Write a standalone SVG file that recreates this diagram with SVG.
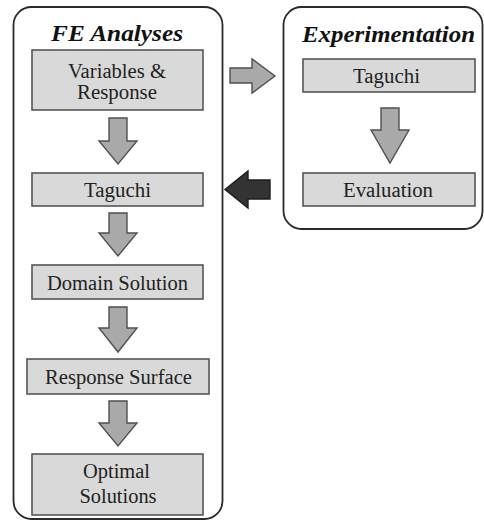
<svg xmlns="http://www.w3.org/2000/svg" width="484" height="521" viewBox="0 0 484 521">
  <style>
    .panel { fill: #ffffff; stroke: #2a2a2a; stroke-width: 1.8; }
    .box { fill: #d9d9d9; stroke: #555555; stroke-width: 1.6; }
    .arrow { fill: #a9a9a9; stroke: #505050; stroke-width: 1.4; stroke-linejoin: miter; }
    .arrow-dark { fill: #333333; stroke: #1e1e1e; stroke-width: 1.4; }
    text { font-family: "Liberation Serif", Tinos, "Nimbus Roman", "Nimbus Roman No9 L", FreeSerif, "Noto Serif", "DejaVu Serif", "Times New Roman", Times, serif; }
    .title { font-weight: bold; font-style: italic; font-size: 23px; fill: #111111; text-anchor: middle; }
    .label { font-size: 20px; fill: #222222; text-anchor: middle; }
  </style>
  <rect width="484" height="521" fill="#ffffff"/>

  <!-- FE analyses panel -->
  <g id="fe-analyses">
    <rect class="panel" x="13.5" y="7" width="209" height="512" rx="18" ry="18"/>
    <text class="title" x="117" y="41" textLength="132" lengthAdjust="spacingAndGlyphs">FE Analyses</text>
  </g>

  <!-- Experimentation panel -->
  <g id="experimentation">
    <rect class="panel" x="283.5" y="7" width="199" height="222" rx="18" ry="18"/>
    <text class="title" x="388.5" y="42" textLength="173" lengthAdjust="spacingAndGlyphs">Experimentation</text>
  </g>

  <g id="variables-response">
    <rect class="box" x="32" y="50" width="171" height="60"/>
    <text class="label" x="117" y="78" textLength="98" lengthAdjust="spacingAndGlyphs">Variables &amp;</text>
    <text class="label" x="117" y="99" textLength="80" lengthAdjust="spacingAndGlyphs">Response</text>
  </g>

  <g id="taguchi-fe">
    <rect class="box" x="32" y="173" width="171" height="33"/>
    <text class="label" x="117.5" y="197" textLength="67" lengthAdjust="spacingAndGlyphs">Taguchi</text>
  </g>

  <g id="domain-solution">
    <rect class="box" x="32" y="265" width="171" height="34"/>
    <text class="label" x="117.5" y="290" textLength="141" lengthAdjust="spacingAndGlyphs">Domain Solution</text>
  </g>

  <g id="response-surface">
    <rect class="box" x="27" y="359" width="182" height="35"/>
    <text class="label" x="118.5" y="384" textLength="147" lengthAdjust="spacingAndGlyphs">Response Surface</text>
  </g>

  <g id="optimal-solutions">
    <rect class="box" x="32" y="454" width="171" height="61"/>
    <text class="label" x="116.5" y="478" textLength="67" lengthAdjust="spacingAndGlyphs">Optimal</text>
    <text class="label" x="118" y="503" textLength="77" lengthAdjust="spacingAndGlyphs">Solutions</text>
  </g>

  <g id="taguchi-exp">
    <rect class="box" x="303" y="59" width="172" height="33"/>
    <text class="label" x="386.5" y="83" textLength="67" lengthAdjust="spacingAndGlyphs">Taguchi</text>
  </g>

  <g id="evaluation">
    <rect class="box" x="303" y="173" width="172" height="33"/>
    <text class="label" x="388" y="197" textLength="90" lengthAdjust="spacingAndGlyphs">Evaluation</text>
  </g>

  <!-- block arrows between steps -->
  <g id="connectors">
    <path class="arrow" d="M109,118 H127 V141 H137 L118,164 L99,141 H109 Z"/>
    <path class="arrow" d="M109,213 H127 V233 H137 L118,256 L99,233 H109 Z"/>
    <path class="arrow" d="M109,307 H127 V328 H137 L118,352 L99,328 H109 Z"/>
    <path class="arrow" d="M109,401 H127 V423 H137 L118,446 L99,423 H109 Z"/>
    <path class="arrow" d="M381,108 H399 V130 H409 L390,163 L371,130 H381 Z"/>
    <path class="arrow" d="M230,68 H252 V59 L275,76 L252,93 V83 H230 Z"/>
    <path class="arrow-dark" d="M270,180 H248 V171 L225,189.5 L248,208 V199 H270 Z"/>
  </g>
</svg>
